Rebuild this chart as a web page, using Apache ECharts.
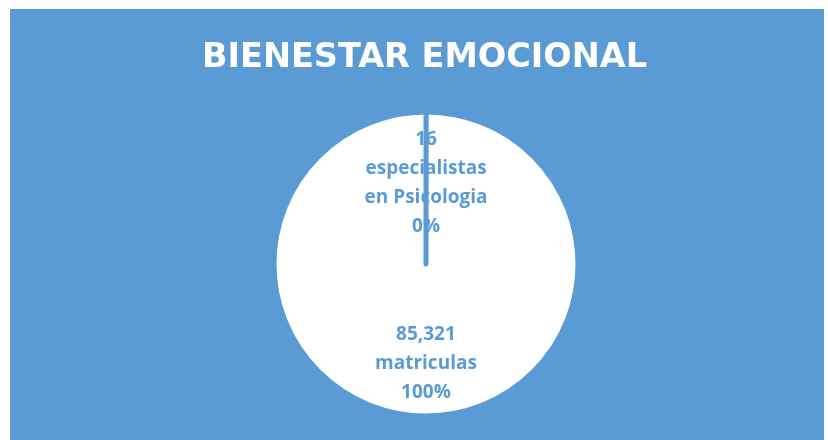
<!DOCTYPE html>
<html>
<head>
<meta charset="utf-8">
<script src="https://cdn.jsdelivr.net/npm/echarts@6/dist/echarts.min.js"></script>
<style>
  html, body { margin: 0; padding: 0; background: #fff; }
  #chart { position: absolute; left: 10px; top: 9px; width: 814px; height: 431px; }
</style>
</head>
<body>
<div id="chart"></div>
<script>
var titleText = 'BIENESTAR EMOCIONAL';
var sliceNames = ['especialistas\nen Psicologia', 'matriculas'];
var sliceValues = [16, 85321];
var slicePercents = ['0%', '100%'];

var blue = '#5B9BD5';
var myChart = echarts.init(document.getElementById('chart'));

var data = [];
for (var i = 0; i < sliceValues.length; i++) {
    data.push({
        name: sliceNames[i],
        value: sliceValues[i],
        label: { offset: i == 1 ? [0, 21] : [0, -2] }
    });
}

var option = {
    backgroundColor: blue,
    title: {
        text: titleText,
        left: 187,
        top: 27,
        textStyle: {
            color: '#fff',
            fontFamily: 'DejaVu Sans',
            fontWeight: 'bold',
            fontSize: 33.5
        }
    },
    series: [{
        type: 'pie',
        center: [416, 255],
        radius: [0, 152],
        startAngle: 90,
        clockwise: true,
        animation: false,
        itemStyle: {
            color: '#fff',
            borderColor: blue,
            borderWidth: 5,
            borderJoin: 'round'
        },
        label: {
            position: 'inside',
            color: blue,
            fontFamily: 'Open Sans',
            fontWeight: 'bold',
            fontSize: 19,
            lineHeight: 29,
            align: 'center',
            formatter: function (p) {
                return echarts.format.addCommas(p.value) + '\n' + p.name + '\n' + slicePercents[p.dataIndex];
            }
        },
        labelLine: { show: false },
        emphasis: { disabled: true },
        data: data
    }]
};
myChart.setOption(option);
</script>
</body>
</html>
